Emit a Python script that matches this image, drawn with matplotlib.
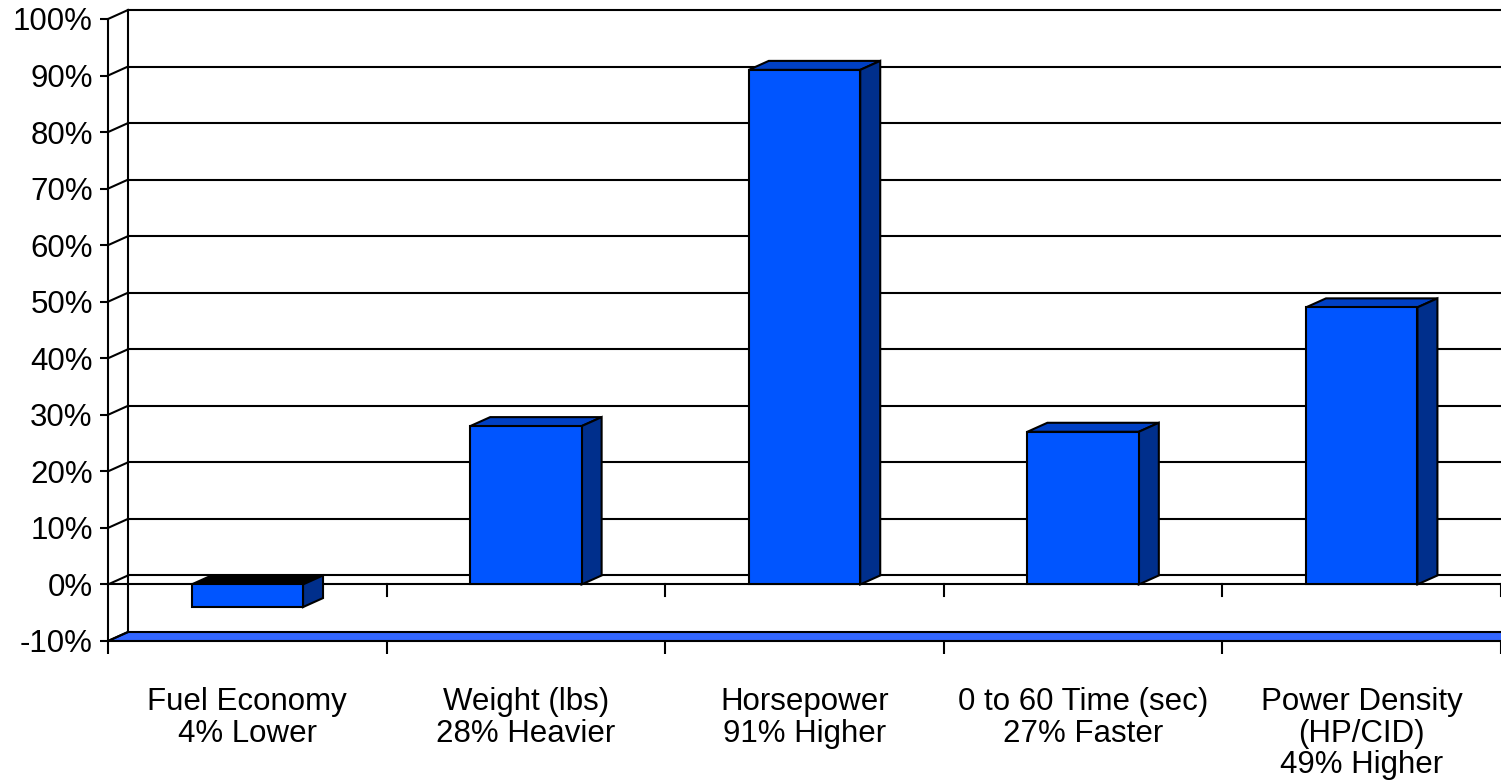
import numpy as np
import matplotlib
matplotlib.use("Agg")
import matplotlib.pyplot as plt
from matplotlib.patches import Polygon
from matplotlib.lines import Line2D
from matplotlib.transforms import IdentityTransform
from matplotlib.ticker import FuncFormatter

plt.rcParams['font.family'] = ['Liberation Sans', 'DejaVu Sans']

# chart data
categories = ["Fuel Economy\n4% Lower", "Weight (lbs)\n28% Heavier", "Horsepower\n91% Higher",
              "0 to 60 Time (sec)\n27% Faster", "Power Density\n(HP/CID)\n49% Higher"]
values = [-4, 28, 91, 27, 49]
y_ticks = list(range(-10, 101, 10))

FRONT = "#0055ff"
SIDE = "#002f8c"
TOP = "#0040c4"
FLOOR = "#3366ff"
DX, DY = 20, 9   # depth offset in pixels
LW = 1.5

fig = plt.figure(figsize=(15.01, 7.80), dpi=100)
W, H = 1501, 780
ax = fig.add_axes([108 / W, (H - 641) / H, (W - 108) / W, (641 - 19) / H])
ax.set_xlim(-0.5, len(values) - 0.5)
ax.set_ylim(-10, 100)
for s in ["top", "right", "bottom"]:
    ax.spines[s].set_visible(False)
ax.spines["left"].set_linewidth(LW)
ax.spines["left"].set_zorder(6)
ax.patch.set_visible(False)


def pt(x, y, back=False):
    px, py = ax.transData.transform((x, y))
    if back:
        px, py = px + DX, py + DY
    return (px, py)


def face(points, color, z=4):
    p = Polygon(points, closed=True, facecolor=color, edgecolor="black", lw=LW,
                transform=IdentityTransform(), clip_on=False, zorder=z)
    ax.add_artist(p)


def seg(a, b, z=2):
    ax.add_artist(Line2D([a[0], b[0]], [a[1], b[1]], color="black", lw=LW,
                         transform=IdentityTransform(), clip_on=False, zorder=z))


x0, x1 = -0.5, len(values) - 0.5

# floor at -10%
face([pt(x0, -10), pt(x1 + 0.2, -10), pt(x1 + 0.2, -10, True), pt(x0, -10, True)], FLOOR, z=1.5)

# back gridlines and left wall diagonals
for y in y_ticks[1:]:
    seg(pt(x0, y, True), pt(x1 + 0.2, y, True))
    seg(pt(x0, y), pt(x0, y, True))
# left wall back edge
seg(pt(x0, -10, True), pt(x0, 100, True))
seg(pt(x0, -10), pt(x0, -10, True), z=5)

# front zero line
seg(pt(x0, 0), pt(x1 + 0.2, 0), z=3)

# category boundary ticks at the zero line
bounds = np.arange(0.5, len(values), 1.0)
for bx in bounds:
    a = pt(bx, 0)
    seg(a, (a[0], a[1] - 12), z=3)

# bars
w = 0.4
xs = np.arange(len(values))
ax.bar(xs, values, width=w, color=FRONT, edgecolor="black", lw=LW, zorder=5)
for x, v in zip(xs, values):
    lo, hi = min(0, v), max(0, v)
    l, r = x - w / 2, x + w / 2
    top_col = TOP if v > 0 else "black"
    face([pt(l, hi), pt(r, hi), pt(r, hi, True), pt(l, hi, True)], top_col)
    face([pt(r, lo), pt(r, hi), pt(r, hi, True), pt(r, lo, True)], SIDE)

# y axis
ax.set_yticks(y_ticks)
ax.yaxis.set_major_formatter(FuncFormatter(lambda v, p: f"{v:.0f}%"))
ax.tick_params(axis="y", length=6, width=LW, pad=5, labelsize=22.5)

# x axis: boundary ticks below floor, labels at centres
ax.set_xticks(np.concatenate([[x0], bounds]))
ax.set_xticklabels([])
ax.tick_params(axis="x", which="major", length=9, width=LW, direction="out", bottom=True)
ax.set_xticks(xs, minor=True)
ax.set_xticklabels(categories, minor=True, fontsize=22.5, linespacing=1.075)
ax.tick_params(axis="x", which="minor", length=0, pad=33)
for t in ax.get_xminorticklabels():
    t.set_multialignment("center")

fig.savefig("out.png", dpi=100)
